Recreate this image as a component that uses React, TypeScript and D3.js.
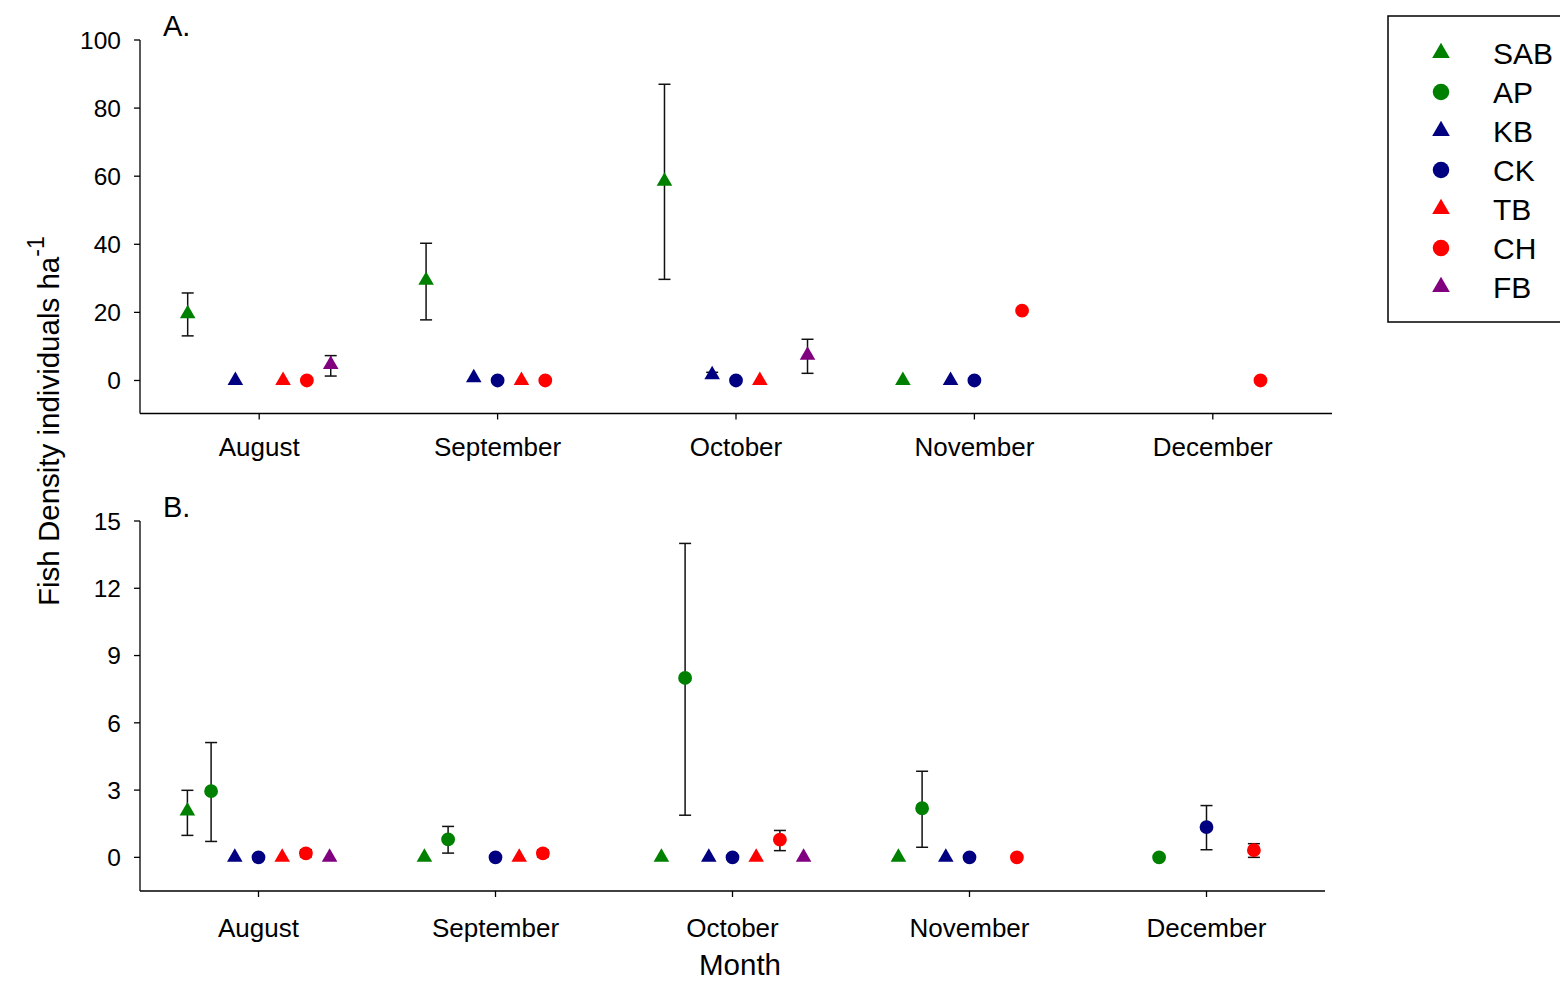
import React from "react";
import * as d3 from "d3";

const months = ["August", "September", "October", "November", "December"];
const seriesNames = ["SAB", "AP", "KB", "CK", "TB", "CH", "FB"];
const seriesColors = ["#008000", "#008000", "#000080", "#000080", "#ff0000", "#ff0000", "#800080"];
const seriesShapes = ["triangle", "circle", "triangle", "circle", "triangle", "circle", "triangle"];
const seriesOffsets = [-0.3, -0.2, -0.1, 0, 0.1, 0.2, 0.3];

type V = number | null;

// Panel A values (mean, lower, upper) per series, per month
const aSAB: V[] = [19.6, 29.4, 58.5, 0, null];
const aSABlo: V[] = [13.1, 17.8, 29.7, null, null];
const aSABhi: V[] = [25.7, 40.3, 87.0, null, null];
const aAP: V[] = [null, null, null, null, null];
const aKB: V[] = [0, 0.8, 1.7, 0, null];
const aKBlo: V[] = [null, null, 1.0, null, null];
const aKBhi: V[] = [null, null, 2.4, null, null];
const aCK: V[] = [null, 0, 0, 0, null];
const aTB: V[] = [0, 0, 0, null, null];
const aCH: V[] = [0, 0, null, 20.5, 0];
const aFB: V[] = [4.7, null, 7.4, null, null];
const aFBlo: V[] = [1.3, null, 2.1, null, null];
const aFBhi: V[] = [7.3, null, 12.1, null, null];

// Panel B values
const bSAB: V[] = [2.07, 0, 0, 0, null];
const bSABlo: V[] = [0.98, null, null, null, null];
const bSABhi: V[] = [2.99, null, null, null, null];
const bAP: V[] = [2.95, 0.8, 8.0, 2.19, 0];
const bAPlo: V[] = [0.71, 0.19, 1.88, 0.45, null];
const bAPhi: V[] = [5.12, 1.38, 14.0, 3.84, null];
const bKB: V[] = [0, null, 0, 0, null];
const bCK: V[] = [0, 0, 0, 0, 1.35];
const bCKlo: V[] = [null, null, null, null, 0.34];
const bCKhi: V[] = [null, null, null, null, 2.31];
const bTB: V[] = [0, 0, 0, null, null];
const bCH: V[] = [0.18, 0.18, 0.79, 0, 0.32];
const bCHlo: V[] = [0.02, 0.02, 0.3, null, 0];
const bCHhi: V[] = [0.34, 0.33, 1.2, null, 0.61];
const bFB: V[] = [0, null, 0, null, null];

const yTicksA = [0, 20, 40, 60, 80, 100];
const yTicksB = [0, 3, 6, 9, 12, 15];

const none: V[] = [null, null, null, null, null];

const panelA = {
  vals: [aSAB, aAP, aKB, aCK, aTB, aCH, aFB],
  lo: [aSABlo, none, aKBlo, none, none, none, aFBlo],
  hi: [aSABhi, none, aKBhi, none, none, none, aFBhi],
};
const panelB = {
  vals: [bSAB, bAP, bKB, bCK, bTB, bCH, bFB],
  lo: [bSABlo, bAPlo, none, bCKlo, none, bCHlo, none],
  hi: [bSABhi, bAPhi, none, bCKhi, none, bCHhi, none],
};

const FONT = "'Liberation Sans', Arial, Helvetica, sans-serif";
const triPath = d3.symbol(d3.symbolTriangle, 105)()!;
const circPath = d3.symbol(d3.symbolCircle, 150)()!;
const legTri = d3.symbol(d3.symbolTriangle, 135)()!;
const legCirc = d3.symbol(d3.symbolCircle, 215)()!;

function Panel({ data, yDomain, yTicks, left, right, top, bottom, letter, labelOff }: any) {
  const x = d3.scaleLinear().domain([-0.5, 4.5]).range([left, right]);
  const y = d3.scaleLinear().domain(yDomain).range([bottom, top]);
  const cap = 6;
  return (
    <g>
      <line x1={left} x2={left} y1={top} y2={bottom} stroke="#000" strokeWidth={1.3} />
      <line x1={left} x2={right} y1={bottom} y2={bottom} stroke="#000" strokeWidth={1.3} />
      {yTicks.map((t: number) => (
        <g key={"y" + t}>
          <line x1={left - 6} x2={left} y1={y(t)} y2={y(t)} stroke="#000" strokeWidth={1.3} />
          <text x={left - 19} y={y(t)} dy="0.36em" textAnchor="end" fontSize={24.5} fontFamily={FONT}>
            {t}
          </text>
        </g>
      ))}
      {months.map((m, i) => (
        <g key={m}>
          <line x1={x(i)} x2={x(i)} y1={bottom} y2={bottom + 6} stroke="#000" strokeWidth={1.3} />
          <text x={x(i)} y={bottom + labelOff} textAnchor="middle" fontSize={26} fontFamily={FONT}>
            {m}
          </text>
        </g>
      ))}
      <text x={left + 23} y={top - 4} fontSize={29} fontFamily={FONT}>{letter}</text>
      {data.vals.map((vals: V[], s: number) =>
        vals.map((v, i) => {
          const lo = data.lo[s][i];
          const hi = data.hi[s][i];
          if (v === null || lo === null || hi === null) return null;
          const cx = x(i + seriesOffsets[s]);
          return (
            <g key={`e${s}-${i}`} stroke="#111" strokeWidth={1.5}>
              <line x1={cx} x2={cx} y1={y(lo)} y2={y(hi)} />
              <line x1={cx - cap} x2={cx + cap} y1={y(lo)} y2={y(lo)} />
              <line x1={cx - cap} x2={cx + cap} y1={y(hi)} y2={y(hi)} />
            </g>
          );
        })
      )}
      {data.vals.map((vals: V[], s: number) =>
        vals.map((v, i) => {
          if (v === null) return null;
          const cx = x(i + seriesOffsets[s]);
          return (
            <path
              key={`m${s}-${i}`}
              d={seriesShapes[s] === "triangle" ? triPath : circPath}
              transform={`translate(${cx},${y(v)})`}
              fill={seriesColors[s]}
            />
          );
        })
      )}
    </g>
  );
}

export default function App() {
  return (
    <svg
      width={1560}
      height={981}
      style={{ position: "absolute", left: 0, top: 0, background: "#fff" }}
      fontFamily={FONT}
    >
      <rect width={1560} height={981} fill="#fff" />
      <Panel data={panelA} yDomain={[-9.7, 100]} yTicks={yTicksA} left={140} right={1332} top={40} bottom={413.5} letter="A." labelOff={42} />
      <Panel data={panelB} yDomain={[-1.5, 15]} yTicks={yTicksB} left={140} right={1325} top={521} bottom={891} letter="B." labelOff={46} />
      <text transform="translate(59,606) rotate(-90)" fontSize={29.5} fontFamily={FONT}>
        Fish Density individuals ha
        <tspan fontSize={23} dy={-15}>-1</tspan>
      </text>
      <text x={740} y={975} textAnchor="middle" fontSize={29.5} fontFamily={FONT}>Month</text>
      <rect x={1388} y={16} width={200} height={306} fill="none" stroke="#000" strokeWidth={1.5} />
      {seriesNames.map((n, i) => (
        <g key={n}>
          <path
            d={seriesShapes[i] === "triangle" ? legTri : legCirc}
            transform={`translate(1441,${53 + i * 39})`}
            fill={seriesColors[i]}
          />
          <text x={1493} y={53 + i * 39} dy="0.36em" fontSize={30} fontFamily={FONT}>{n}</text>
        </g>
      ))}
    </svg>
  );
}
